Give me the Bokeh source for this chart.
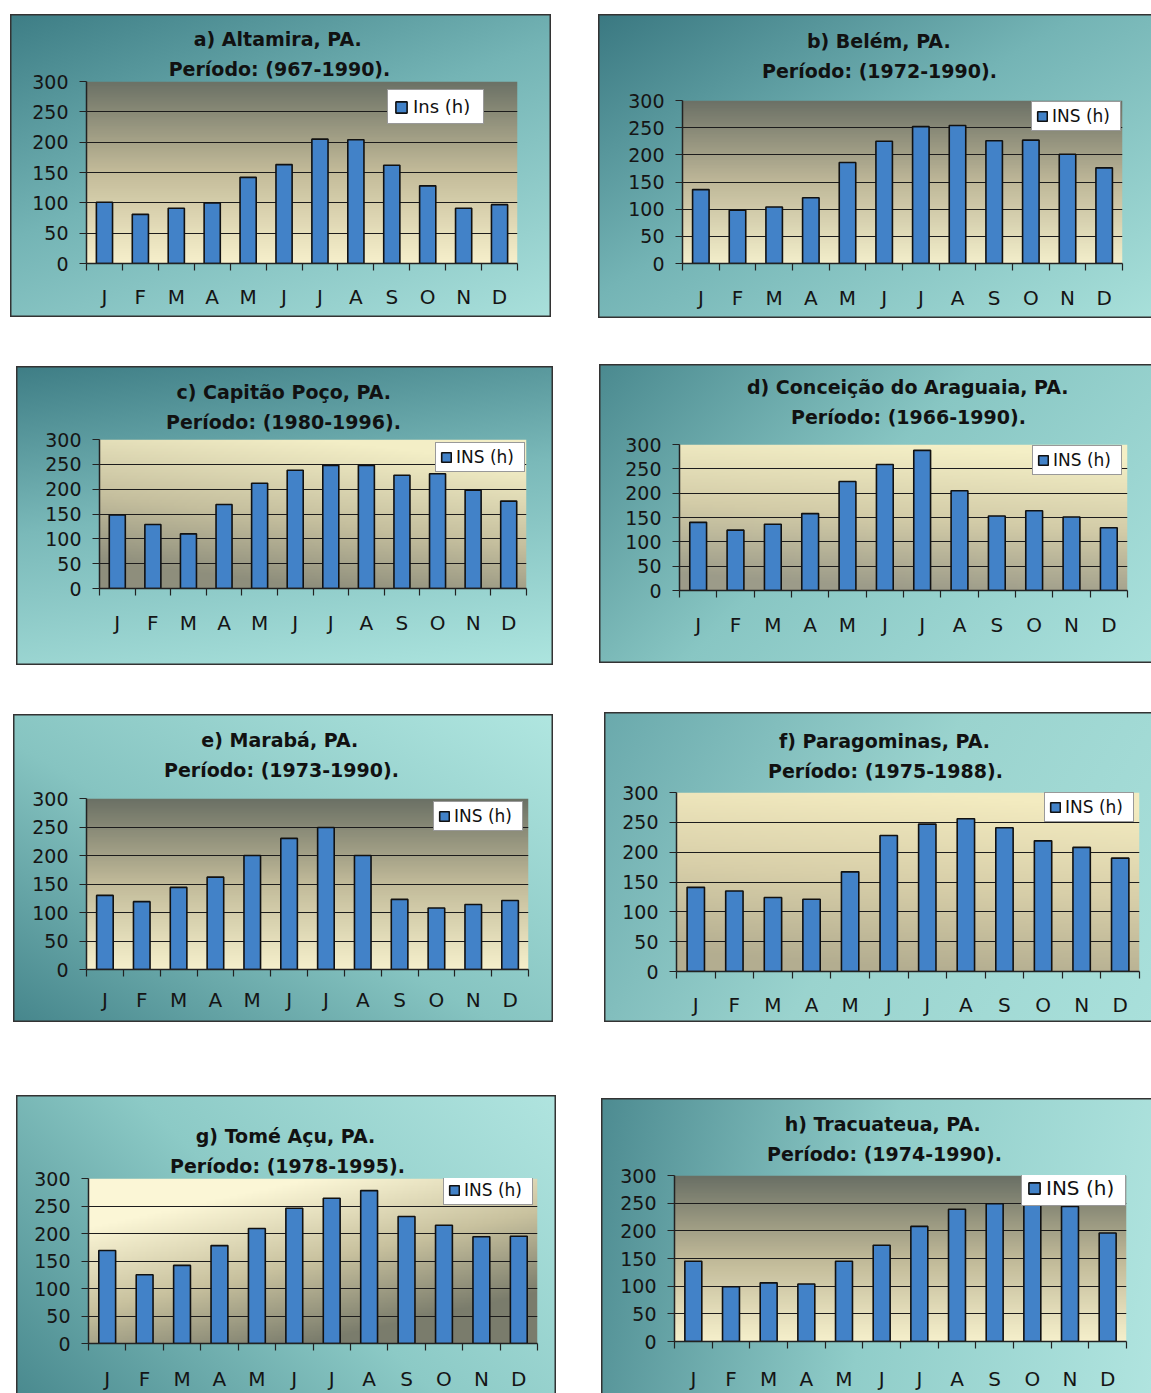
import numpy as np
from bokeh.plotting import figure
from bokeh.models import Range1d, FixedTicker, Title, Spacer
from bokeh.layouts import row, column
from bokeh.embed import file_html
from bokeh.resources import INLINE

# ---------------- data ----------------
months = ["J", "F", "M", "A", "M", "J", "J", "A", "S", "O", "N", "D"]
y_ticks = [0, 50, 100, 150, 200, 250, 300]

altamira = [101, 81, 91, 100, 142, 163, 205, 204, 162, 128, 91, 97]
belem = [136, 98, 104, 121, 186, 225, 252, 254, 226, 227, 201, 176]
capitao_poco = [148, 129, 110, 169, 212, 238, 248, 248, 228, 231, 198, 176]
conceicao = [140, 124, 136, 158, 224, 259, 288, 205, 153, 164, 151, 129]
maraba = [130, 119, 144, 162, 200, 230, 249, 200, 123, 108, 114, 121]
paragominas = [141, 135, 124, 121, 167, 228, 247, 256, 241, 219, 208, 190]
tome_acu = [169, 125, 142, 178, 209, 246, 264, 278, 231, 215, 194, 195]
tracuateua = [145, 99, 106, 104, 145, 174, 208, 239, 249, 257, 244, 196]

titles = {
    "a": ("a) Altamira, PA.", "Período: (967-1990)."),
    "b": ("b) Belém, PA.", "Período: (1972-1990)."),
    "c": ("c) Capitão Poço, PA.", "Período: (1980-1996)."),
    "d": ("d) Conceição do Araguaia, PA.", "Período: (1966-1990)."),
    "e": ("e) Marabá, PA.", "Período: (1973-1990)."),
    "f": ("f) Paragominas, PA.", "Período: (1975-1988)."),
    "g": ("g) Tomé Açu, PA.", "Período: (1978-1995)."),
    "h": ("h) Tracuateua, PA.", "Período: (1974-1990)."),
}
series = {"a": altamira, "b": belem, "c": capitao_poco, "d": conceicao,
          "e": maraba, "f": paragominas, "g": tome_acu, "h": tracuateua}
legend_labels = {"a": "Ins (h)", "b": "INS (h)", "c": "INS (h)", "d": "INS (h)",
                 "e": "INS (h)", "f": "INS (h)", "g": "INS (h)", "h": "INS (h)"}

# ---------------- styling / geometry (page px) ----------------
BAR = "#4282c8"
FONT = "DejaVu Sans"
TITLE_PX = 19

geom = {
    "a": dict(box=(10, 14, 551, 317), frame=(86, 81, 517, 263), leg=(387, 124), lf=18,
              lp=(6, 14, 5, 64), t1=(278, 41), t2=(279, 71), xs=14, bd="ltrb",
              bg="linear-gradient(160deg, #3d7d85 0%, #74b4b5 45%, #a9e0db 100%)",
              pg=([(0, "#f7f0cb"), (0.5, "#c4bc9a"), (1, "#6c7266")], 0.0)),
    "b": dict(box=(598, 14, 1151, 318), frame=(682, 100, 1122, 263), leg=(1031, 131), lf=17,
              lp=(4, 12, 4, 64), t1=(879, 43), t2=(879, 72), xs=15, bd="ltb",
              bg="linear-gradient(150deg, #3a7881 0%, #74b4b5 45%, #a8e0da 100%)",
              pg=([(0, "#f3eecb"), (0.5, "#bfb899"), (1, "#6c7166")], 0.0)),
    "c": dict(box=(16, 366, 553, 665), frame=(99, 439, 526, 588), leg=(435, 472), lf=17,
              lp=(4, 12, 4, 64), t1=(284, 393), t2=(283, 423), xs=15, bd="ltrb",
              bg="linear-gradient(172deg, #3e7d85 0%, #7ab9b9 45%, #ade5df 100%)",
              pg=([(0, "#8e8e7c"), (0.45, "#c5bf9e"), (1, "#f3eec6")], 0.35)),
    "d": dict(box=(599, 364, 1151, 663), frame=(679, 444, 1127, 590), leg=(1032, 475), lf=17,
              lp=(4, 12, 4, 64), t1=(908, 387), t2=(908, 418), xs=15, bd="ltb",
              bg="linear-gradient(135deg, #4a898f 0%, #88c6c3 45%, #aae1dc 100%)",
              pg=([(0, "#9c9b89"), (0.5, "#d3cca8"), (1, "#f4efc6")], 0.2)),
    "e": dict(box=(13, 714, 553, 1022), frame=(86, 798, 528, 969), leg=(433, 831), lf=17,
              lp=(4, 12, 4, 64), t1=(280, 741), t2=(281, 771), xs=11, bd="ltrb",
              bg="linear-gradient(30deg, #46868c 0%, #86c4c1 45%, #b0e6e0 100%)",
              pg=([(0, "#f6f0cc"), (0.5, "#c2bb9a"), (1, "#6b7165")], 0.0)),
    "f": dict(box=(604, 712, 1151, 1022), frame=(676, 792, 1139, 971), leg=(1044, 822), lf=17,
              lp=(4, 12, 4, 64), t1=(885, 743), t2=(885, 772), xs=14, bd="ltb",
              bg="linear-gradient(120deg, #6aa9ac 0%, #9ad3ce 50%, #a9e0db 100%)",
              pg=([(0, "#b3ad90"), (0.5, "#d8cfa9"), (1, "#f3ebc0")], 0.2)),
    "g": dict(box=(16, 1095, 556, 1393), frame=(88, 1178, 537, 1348), leg=(443, 1210), lf=17,
              lp=(4, 12, 4, 64), t1=(287, 1135), t2=(287, 1164), xs=16, bd="ltr",
              bg="linear-gradient(45deg, #4a8a8f 0%, #8ccac6 50%, #b0e4df 100%)",
              pg=([(0, "#7a7c6c"), (0.5, "#c9c29f"), (1, "#fbf6d6")], -0.6)),
    "h": dict(box=(601, 1098, 1151, 1393), frame=(674, 1175, 1126, 1351), leg=(1021, 1216), lf=20,
              lp=(5, 14, 5, 74), t1=(884, 1127), t2=(884, 1155), xs=18, bd="lt",
              bg="linear-gradient(100deg, #4d8b91 0%, #90cdc9 50%, #b0e4df 100%)",
              pg=([(0, "#f6f0cc"), (0.5, "#c0b998"), (1, "#6a7065")], 0.0)),
}

# approximate advance widths (em) of DejaVu Sans Bold, used only to centre titles
_W = {" ": .348, "(": .458, ")": .458, ",": .381, "-": .415, ".": .381, ":": .400,
      "A": .774, "B": .762, "C": .734, "M": .995, "P": .734, "T": .682,
      "a": .675, "b": .716, "c": .593, "d": .716, "e": .678, "f": .435, "g": .716,
      "h": .712, "i": .343, "l": .343, "m": 1.042, "n": .712, "o": .687, "p": .716,
      "r": .493, "s": .595, "t": .478, "u": .712,
      "á": .675, "ã": .675, "é": .678, "í": .343, "ç": .593}


def text_w(s, px):
    return sum(_W.get(ch, .696) for ch in s) * px


def hex2rgb(h):
    return tuple(int(h[i:i + 2], 16) for i in (1, 3, 5))


def grad_image(stops, tilt, nx=220, ny=100):
    u = np.linspace(0, 1, nx)[None, :]
    v = np.linspace(0, 1, ny)[:, None]
    t = np.clip(v + tilt * (u - 0.5), 0, 1)
    ts = [s[0] for s in stops]
    img = np.empty((ny, nx), dtype=np.uint32)
    view = img.view(dtype=np.uint8).reshape((ny, nx, 4))
    for k in range(3):
        vals = [hex2rgb(c)[k] for _, c in stops]
        view[:, :, k] = np.interp(t, ts, vals).astype(np.uint8)
    view[:, :, 3] = 255
    return img


def border_shadow(sides, c="#333333", w=1.5):
    parts = []
    if "l" in sides:
        parts.append(f"inset {w}px 0 0 {c}")
    if "t" in sides:
        parts.append(f"inset 0 {w}px 0 {c}")
    if "r" in sides:
        parts.append(f"inset -{w}px 0 0 {c}")
    if "b" in sides:
        parts.append(f"inset 0 -{w}px 0 {c}")
    return ", ".join(parts)


def make_panel(key):
    g = geom[key]
    bx0, by0, bx1, by1 = g["box"]
    fx0, fy0, fx1, fy1 = g["frame"]
    p = figure(width=bx1 - bx0, height=by1 - by0, output_backend="svg",
               toolbar_location=None, x_range=Range1d(-0.5, len(months) - 0.5),
               y_range=Range1d(y_ticks[0], y_ticks[-1]))
    p.title.visible = False
    p.min_border_left = fx0 - bx0
    p.min_border_right = bx1 - fx1
    p.min_border_top = fy0 - by0
    p.min_border_bottom = by1 - fy1
    p.border_fill_alpha = 0
    p.background_fill_alpha = 0
    p.outline_line_color = None
    p.styles = {"background-image": g["bg"], "box-shadow": border_shadow(g["bd"])}

    stops, tilt = g["pg"]
    xr, yr = p.x_range, p.y_range
    p.image_rgba(image=[grad_image(stops, tilt)], x=xr.start, y=yr.start,
                 dw=xr.end - xr.start, dh=yr.end - yr.start, level="image")

    xs = list(range(len(months)))
    p.vbar(x=xs, top=series[key], width=0.45, fill_color=BAR, line_color="#111111",
           line_width=1.6, legend_label=legend_labels[key])

    # grid
    p.xgrid.visible = False
    p.ygrid.ticker = FixedTicker(ticks=y_ticks[1:-1])
    p.ygrid.grid_line_color = "#1c1c1c"
    p.ygrid.grid_line_width = 1.1

    # y axis
    ya = p.yaxis[0]
    ya.ticker = FixedTicker(ticks=y_ticks)
    ya.major_tick_out = 7
    ya.major_tick_in = 0
    ya.minor_tick_line_color = None
    ya.axis_line_color = "#222222"
    ya.axis_line_width = 1.5
    ya.major_tick_line_color = "#222222"
    ya.major_tick_line_width = 1.2
    ya.major_label_standoff = 11
    ya.major_label_text_font = FONT
    ya.major_label_text_font_size = "19px"
    ya.major_label_text_color = "#151515"

    # x axis
    xa = p.xaxis[0]
    xa.ticker = FixedTicker(ticks=xs, minor_ticks=[i - 0.5 for i in range(len(months) + 1)])
    xa.major_label_overrides = {i: m for i, m in enumerate(months)}
    xa.major_tick_line_color = None
    xa.major_tick_out = 0
    xa.major_tick_in = 0
    xa.minor_tick_out = 7
    xa.minor_tick_in = 0
    xa.minor_tick_line_color = "#222222"
    xa.minor_tick_line_width = 1.2
    xa.axis_line_color = "#222222"
    xa.axis_line_width = 1.5
    xa.major_label_standoff = g["xs"]
    xa.major_label_text_font = FONT
    xa.major_label_text_font_size = "20px"
    xa.major_label_text_color = "#151515"

    # titles: spacer, second line (nearest the frame), first line
    gap = fy0 - g["t2"][1]
    sp = max(0, gap - 13)
    if sp > 1:
        p.add_layout(Title(text=" ", text_font_size="1px", standoff=sp - 1), "above")
    for (tx, ty), txt, so in ((g["t2"], titles[key][1], 4), (g["t1"], titles[key][0], 8)):
        off = tx - fx0 - text_w(txt, TITLE_PX) / 2
        p.add_layout(Title(text=txt, align="left", offset=off, standoff=so,
                           text_font=FONT, text_font_style="bold",
                           text_font_size=f"{TITLE_PX}px", text_color="#111111"), "above")

    # legend
    lx, ly = g["leg"]
    pad, gsz, stand, lw = g["lp"]
    lg = p.legend[0]
    lg.location = (lx - fx0, fy1 - ly)
    lg.padding = pad
    lg.margin = 0
    lg.spacing = 0
    lg.glyph_width = gsz
    lg.glyph_height = gsz
    lg.label_standoff = stand
    lg.label_width = lw
    lg.label_text_font = FONT
    lg.label_text_font_size = f"{g['lf']}px"
    lg.label_text_color = "#111111"
    lg.border_line_color = "#333333"
    lg.border_line_width = 1
    lg.background_fill_color = "white"
    lg.background_fill_alpha = 1
    return p


rows_spec = [("a", "b"), ("c", "d"), ("e", "f"), ("g", "h")]
rows = []
row_top = 0
for lk, rk in rows_spec:
    lb, rb = geom[lk]["box"], geom[rk]["box"]
    cells = []
    for k, b in ((lk, lb), (rk, rb)):
        fig = make_panel(k)
        gap = b[1] - row_top
        cells.append(column(Spacer(width=1, height=gap), fig) if gap > 0 else column(fig))
    rows.append(row(Spacer(width=lb[0], height=1), cells[0],
                    Spacer(width=rb[0] - lb[2], height=1), cells[1]))
    row_top = max(lb[3], rb[3])

layout = column(*rows)
open("out.html", "w").write(file_html(layout, INLINE, title="Insolação"))
